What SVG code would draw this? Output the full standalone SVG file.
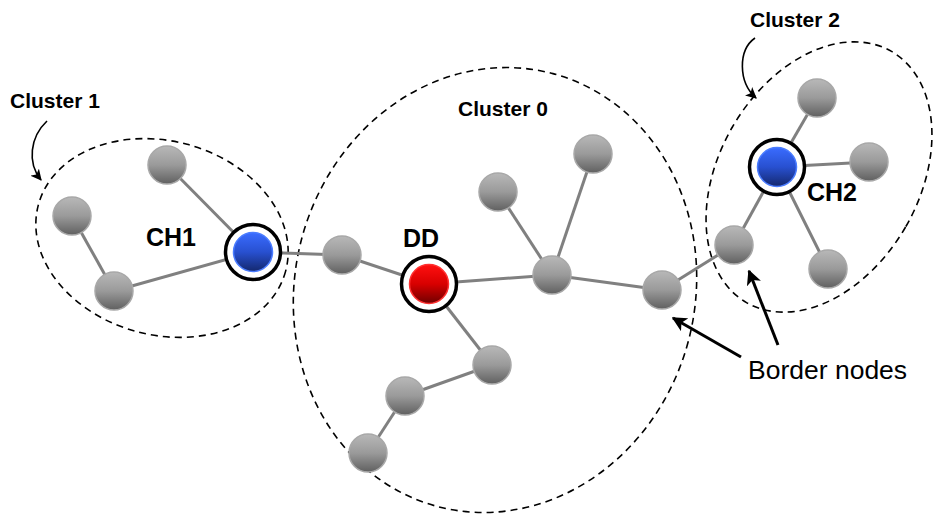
<svg xmlns="http://www.w3.org/2000/svg" width="933" height="514" viewBox="0 0 933 514">
<defs>
<linearGradient id="gGray" x1="0" y1="0" x2="0" y2="1">
<stop offset="0" stop-color="#b8b8b8"/>
<stop offset="0.5" stop-color="#9a9a9a"/>
<stop offset="1" stop-color="#606060"/>
</linearGradient>
<linearGradient id="gBlue" x1="0" y1="0" x2="0" y2="1">
<stop offset="0" stop-color="#3a6cff"/>
<stop offset="0.5" stop-color="#2850d0"/>
<stop offset="1" stop-color="#14286e"/>
</linearGradient>
<linearGradient id="gRed" x1="0" y1="0" x2="0" y2="1">
<stop offset="0" stop-color="#ff1010"/>
<stop offset="0.5" stop-color="#d80000"/>
<stop offset="1" stop-color="#700000"/>
</linearGradient>
<marker id="arr" viewBox="0 0 10 10" refX="9" refY="5" markerWidth="5" markerHeight="5" orient="auto" markerUnits="strokeWidth">
<path d="M0,0 L10,5 L0,10 L2.5,5 z" fill="#000"/>
</marker>
<marker id="arrS" viewBox="0 0 10 10" refX="9" refY="5" markerWidth="7" markerHeight="7" orient="auto" markerUnits="strokeWidth">
<path d="M0,0 L10,5 L0,10 L2.5,5 z" fill="#000"/>
</marker>
</defs>
<style>
.cl{fill:none;stroke:#000;stroke-width:1.6;stroke-dasharray:7,5}
.e{stroke:#808080;stroke-width:3;fill:none}
.n{fill:url(#gGray);stroke:#a8a8a8;stroke-width:1.5}
.ring{fill:#fff;stroke:#000;stroke-width:3.5}
.blue{fill:url(#gBlue);stroke:#4a7cff;stroke-width:1.5}
.red{fill:url(#gRed);stroke:#ff3030;stroke-width:1.5}
.lbl{font-family:"Liberation Sans",Arial,sans-serif;font-weight:bold;fill:#000}
.cln{font-size:21px}
.ch{font-size:25px}
.ptr{fill:none;stroke:#000;stroke-width:3}
.cur{fill:none;stroke:#000;stroke-width:1.6}
</style>

<g id="clusters">
<ellipse class="cl" cx="162" cy="238" rx="128" ry="97" transform="rotate(15 162 238)"/>
<ellipse class="cl" cx="495" cy="290" rx="200" ry="224" transform="rotate(15 495 290)"/>
<ellipse class="cl" cx="819" cy="177" rx="100" ry="145" transform="rotate(30 819 177)"/>
</g>

<g id="connectors">
<line class="e" x1="167" y1="165" x2="253" y2="252"/>
<line class="e" x1="72" y1="216" x2="114" y2="291"/>
<line class="e" x1="114" y1="291" x2="253" y2="252"/>
<line class="e" x1="253" y1="252" x2="342" y2="255"/>
<line class="e" x1="342" y1="255" x2="429" y2="284"/>
<line class="e" x1="429" y1="284" x2="552" y2="275"/>
<line class="e" x1="429" y1="284" x2="492" y2="365"/>
<line class="e" x1="492" y1="365" x2="405" y2="396"/>
<line class="e" x1="405" y1="396" x2="368" y2="453"/>
<line class="e" x1="552" y1="275" x2="498" y2="192"/>
<line class="e" x1="552" y1="275" x2="593" y2="154"/>
<line class="e" x1="552" y1="275" x2="662" y2="290"/>
<line class="e" x1="662" y1="290" x2="734" y2="245"/>
<line class="e" x1="734" y1="245" x2="777" y2="167"/>
<line class="e" x1="777" y1="167" x2="817" y2="98"/>
<line class="e" x1="777" y1="167" x2="869" y2="162"/>
<line class="e" x1="777" y1="167" x2="828" y2="269"/>
</g>

<g id="cluster1-A"><circle class="n" cx="167" cy="165" r="19"/></g>
<g id="cluster1-B"><circle class="n" cx="72" cy="216" r="19"/></g>
<g id="cluster1-C"><circle class="n" cx="114" cy="291" r="19"/></g>
<g id="CH1"><circle class="ring" cx="253" cy="252" r="27.5"/><circle class="blue" cx="253" cy="252" r="19.5"/></g>
<g id="cluster0-D"><circle class="n" cx="342" cy="255" r="19"/></g>
<g id="DD"><circle class="ring" cx="429" cy="284" r="27.5"/><circle class="red" cx="429" cy="284" r="19.5"/></g>
<g id="cluster0-E"><circle class="n" cx="498" cy="192" r="19"/></g>
<g id="cluster0-F"><circle class="n" cx="593" cy="154" r="19"/></g>
<g id="cluster0-G"><circle class="n" cx="552" cy="275" r="19"/></g>
<g id="cluster0-H"><circle class="n" cx="662" cy="290" r="19"/></g>
<g id="cluster0-I"><circle class="n" cx="492" cy="365" r="19"/></g>
<g id="cluster0-J"><circle class="n" cx="405" cy="396" r="19"/></g>
<g id="cluster0-K"><circle class="n" cx="368" cy="453" r="19"/></g>
<g id="CH2"><circle class="ring" cx="777" cy="167" r="27.5"/><circle class="blue" cx="777" cy="167" r="19.5"/></g>
<g id="cluster2-L"><circle class="n" cx="817" cy="98" r="19"/></g>
<g id="cluster2-M"><circle class="n" cx="869" cy="162" r="19"/></g>
<g id="cluster2-N"><circle class="n" cx="828" cy="269" r="19"/></g>
<g id="cluster2-O"><circle class="n" cx="734" cy="245" r="19"/></g>

<g id="labels">
<text class="lbl cln" x="10" y="108">Cluster 1</text>
<text class="lbl cln" x="458" y="116">Cluster 0</text>
<text class="lbl cln" x="750" y="27">Cluster 2</text>
<text class="lbl ch" x="146" y="246">CH1</text>
<text class="lbl ch" x="403" y="247">DD</text>
<text class="lbl ch" x="807" y="201">CH2</text>
<text x="748" y="379" font-family="'Liberation Sans',Arial,sans-serif" font-size="26.5" fill="#000">Border nodes</text>
</g>

<g id="pointers">
<path class="cur" d="M47,121 C30,137 27,163 41,180" marker-end="url(#arrS)"/>
<path class="cur" d="M755,38 C738,50 738,82 756,98" marker-end="url(#arrS)"/>
<line class="ptr" x1="741" y1="357" x2="673" y2="318" marker-end="url(#arr)"/>
<line class="ptr" x1="778" y1="345" x2="749" y2="271" marker-end="url(#arr)"/>
</g>
</svg>
